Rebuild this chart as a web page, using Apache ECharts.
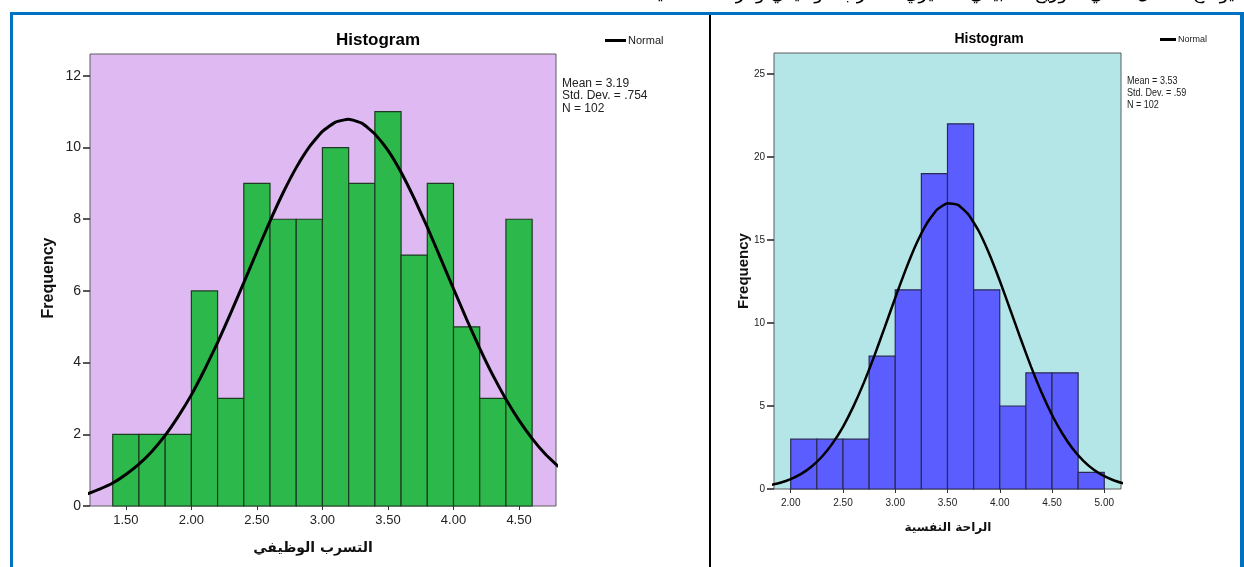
<!DOCTYPE html>
<html>
<head>
<meta charset="utf-8">
<script src="https://cdn.jsdelivr.net/npm/echarts@6.0.0/dist/echarts.min.js"></script>
<style>
html,body{margin:0;padding:0;background:#fff;}
#chart{width:1244px;height:567px;}
</style>
</head>
<body>
<div id="chart"></div>
<script>
// ---- Left histogram (التسرب الوظيفي) ----
const leftEdges  = [1.4,1.6,1.8,2.0,2.2,2.4,2.6,2.8,3.0,3.2,3.4,3.6,3.8,4.0,4.2,4.4,4.6];
const leftCounts = [2,2,2,6,3,9,8,8,10,9,11,7,9,5,3,8];
const leftXTicks = [1.5,2.0,2.5,3.0,3.5,4.0,4.5];
const leftYTicks = [0,2,4,6,8,10,12];
const leftCurveX = [1.2,1.3,1.4,1.5,1.6,1.7,1.8,1.9,2.0,2.1,2.2,2.3,2.4,2.5,2.6,2.7,2.8,2.9,3.0,3.1,3.2,3.3,3.4,3.5,3.6,3.7,3.8,3.9,4.0,4.1,4.2,4.3,4.4,4.5,4.6,4.7,4.8];
const leftCurveY = [0.33,0.47,0.64,0.88,1.17,1.53,1.97,2.50,3.10,3.80,4.56,5.38,6.23,7.10,7.95,8.74,9.44,10.02,10.45,10.71,10.79,10.68,10.38,9.92,9.31,8.58,7.78,6.92,6.06,5.21,4.40,3.65,2.98,2.39,1.88,1.45,1.10];
const leftStats = ['Mean = 3.19','Std. Dev. = .754','N = 102'];

// ---- Right histogram (الراحة النفسية) ----
const rightEdges  = [2.0,2.25,2.5,2.75,3.0,3.25,3.5,3.75,4.0,4.25,4.5,4.75,5.0];
const rightCounts = [3,3,3,8,12,19,22,12,5,7,7,1];
const rightXTicks = [2.0,2.5,3.0,3.5,4.0,4.5,5.0];
const rightYTicks = [0,5,10,15,20,25];
const rightCurveX = [1.8,1.9,2.0,2.1,2.2,2.3,2.4,2.5,2.6,2.7,2.8,2.9,3.0,3.1,3.2,3.3,3.4,3.5,3.6,3.7,3.8,3.9,4.0,4.1,4.2,4.3,4.4,4.5,4.6,4.7,4.8,4.9,5.0,5.1,5.2];
const rightCurveY = [0.23,0.38,0.60,0.91,1.36,1.96,2.75,3.75,4.98,6.41,8.02,9.75,11.52,13.22,14.75,15.98,16.83,17.22,17.12,16.54,15.53,14.16,12.55,10.81,9.05,7.36,5.81,4.46,3.33,2.41,1.70,1.16,0.77,0.50,0.31];
const rightStats = ['Mean = 3.53','Std. Dev. = .59','N = 102'];

const chartTitle = 'Histogram';
const yName = 'Frequency';
const leftXName = 'التسرب الوظيفي';
const rightXName = 'الراحة النفسية';
const curveName = 'Normal';
const headingText = 'يوضح الشكل التالي التوزيع الطبيعي لمتغيري التسرب الوظيفي والراحة النفسية';

function binData(edges, counts){
  return counts.map((c,i)=>[edges[i], edges[i+1], c]);
}
function pairs(xs, ys){ return xs.map((x,i)=>[x, ys[i]]); }
function barRenderer(fill, stroke){
  return function(params, api){
    const p0 = api.coord([api.value(0), api.value(2)]);
    const p1 = api.coord([api.value(1), 0]);
    return {type:'rect', shape:{x:p0[0], y:p0[1], width:p1[0]-p0[0], height:p1[1]-p0[1]},
      style:{fill:fill, stroke:stroke, lineWidth:1.2}};
  };
}

const chart = echarts.init(document.getElementById('chart'), null, {renderer:'canvas'});
const LF = 'Liberation Sans, Arial, sans-serif';
const AF = 'DejaVu Sans, sans-serif';

chart.setOption({
  animation:false,
  backgroundColor:'#ffffff',
  grid:[
    {left:90, top:54, width:466, height:452, show:true, backgroundColor:'#DFB9F2', borderColor:'#5c5c5c', borderWidth:1},
    {left:774, top:53, width:347, height:436, show:true, backgroundColor:'#B4E6E8', borderColor:'#5c5c5c', borderWidth:1}
  ],
  xAxis:[
    {type:'value', gridIndex:0, min:1.2265, max:4.782, splitLine:{show:false}, axisLine:{show:false},
     axisTick:{show:true, length:4, lineStyle:{color:'#333'}, customValues:leftXTicks},
     axisLabel:{customValues:leftXTicks, formatter:v=>v.toFixed(2), fontFamily:LF, fontSize:13, color:'#222', margin:8}},
    {type:'value', gridIndex:1, min:1.84, max:5.16, splitLine:{show:false}, axisLine:{show:false},
     axisTick:{show:true, length:4, lineStyle:{color:'#333'}, customValues:rightXTicks},
     axisLabel:{customValues:rightXTicks, formatter:v=>v.toFixed(2), fontFamily:LF, fontSize:10, color:'#222', margin:9}}
  ],
  yAxis:[
    {type:'value', gridIndex:0, min:0, max:12.61, splitLine:{show:false}, axisLine:{show:false},
     axisTick:{show:true, length:7, lineStyle:{color:'#222', width:1.5}, customValues:leftYTicks},
     axisLabel:{customValues:leftYTicks, fontFamily:LF, fontSize:14, color:'#222', margin:9}},
    {type:'value', gridIndex:1, min:0, max:26.27, splitLine:{show:false}, axisLine:{show:false},
     axisTick:{show:true, length:7, lineStyle:{color:'#222', width:1.5}, customValues:rightYTicks},
     axisLabel:{customValues:rightYTicks, fontFamily:LF, fontSize:10, color:'#222', margin:9}}
  ],
  legend:[
    {left:600, top:30, icon:'rect', itemWidth:21, itemHeight:3, itemGap:2, data:[curveName],
     textStyle:{fontFamily:LF, fontSize:11, color:'#222', padding:[0,0,0,-3]}},
    {left:1155, top:30, icon:'rect', itemWidth:16, itemHeight:3, data:[curveName],
     textStyle:{fontFamily:LF, fontSize:9, color:'#222', padding:[0,0,0,-3]}}
  ],
  series:[
    {type:'custom', name:'leftBars', xAxisIndex:0, yAxisIndex:0, data:binData(leftEdges,leftCounts),
     encode:{x:[0,1], y:2}, renderItem:barRenderer('#2DB84B','#1e3a22'), z:2},
    {type:'line', name:curveName, xAxisIndex:0, yAxisIndex:0, data:pairs(leftCurveX,leftCurveY),
     smooth:0.15, symbol:'none', lineStyle:{color:'#000', width:3}, itemStyle:{color:'#000'}, z:5},
    {type:'custom', name:'rightBars', xAxisIndex:1, yAxisIndex:1, data:binData(rightEdges,rightCounts),
     encode:{x:[0,1], y:2}, renderItem:barRenderer('#5B5DFF','#2a2b55'), z:2},
    {type:'line', name:curveName, xAxisIndex:1, yAxisIndex:1, data:pairs(rightCurveX,rightCurveY),
     smooth:0.15, symbol:'none', lineStyle:{color:'#000', width:2.5}, itemStyle:{color:'#000'}, z:5}
  ],
  graphic:[
    // frame
    {type:'rect', shape:{x:10, y:12, width:1234, height:3}, style:{fill:'#0070C0'}, silent:true},
    {type:'rect', shape:{x:10, y:12, width:3, height:555}, style:{fill:'#0070C0'}, silent:true},
    {type:'rect', shape:{x:1240, y:12, width:4, height:555}, style:{fill:'#0070C0'}, silent:true},
    {type:'rect', shape:{x:709, y:15, width:2, height:552}, style:{fill:'#000'}, silent:true},
    // cut-off heading line at very top
    {type:'text', x:1234, y:3, style:{text:headingText, font:'18px '+AF, fill:'#000', textAlign:'right', textVerticalAlign:'bottom'}, silent:true},
    // titles
    {type:'text', x:378, y:40, style:{text:chartTitle, font:'bold 17px '+LF, fill:'#000', textAlign:'center', textVerticalAlign:'middle'}},
    {type:'text', x:989, y:39, style:{text:chartTitle, font:'bold 14px '+LF, fill:'#000', textAlign:'center', textVerticalAlign:'middle'}},
    // stats
    {type:'text', x:562, y:77, style:{text:leftStats.join('\n'), font:'12px '+LF, lineHeight:12.5, fill:'#222', textAlign:'left', textVerticalAlign:'top'}},
    {type:'text', x:1127, y:75, scaleX:0.86, style:{text:rightStats.join('\n'), font:'10.5px '+LF, lineHeight:12, fill:'#222', textAlign:'left', textVerticalAlign:'top'}},
    // axis names
    {type:'text', x:49, y:278, rotation:Math.PI/2, style:{text:yName, font:'bold 16px '+LF, fill:'#111', textAlign:'center', textVerticalAlign:'middle'}},
    {type:'text', x:744, y:271, rotation:Math.PI/2, style:{text:yName, font:'bold 15px '+LF, fill:'#111', textAlign:'center', textVerticalAlign:'middle'}},
    {type:'text', x:313, y:548, style:{text:leftXName, font:'bold 14px '+AF, fill:'#111', textAlign:'center', textVerticalAlign:'middle'}},
    {type:'text', x:948, y:528, style:{text:rightXName, font:'bold 12px '+AF, fill:'#111', textAlign:'center', textVerticalAlign:'middle'}}
  ]
});
</script>
</body>
</html>
